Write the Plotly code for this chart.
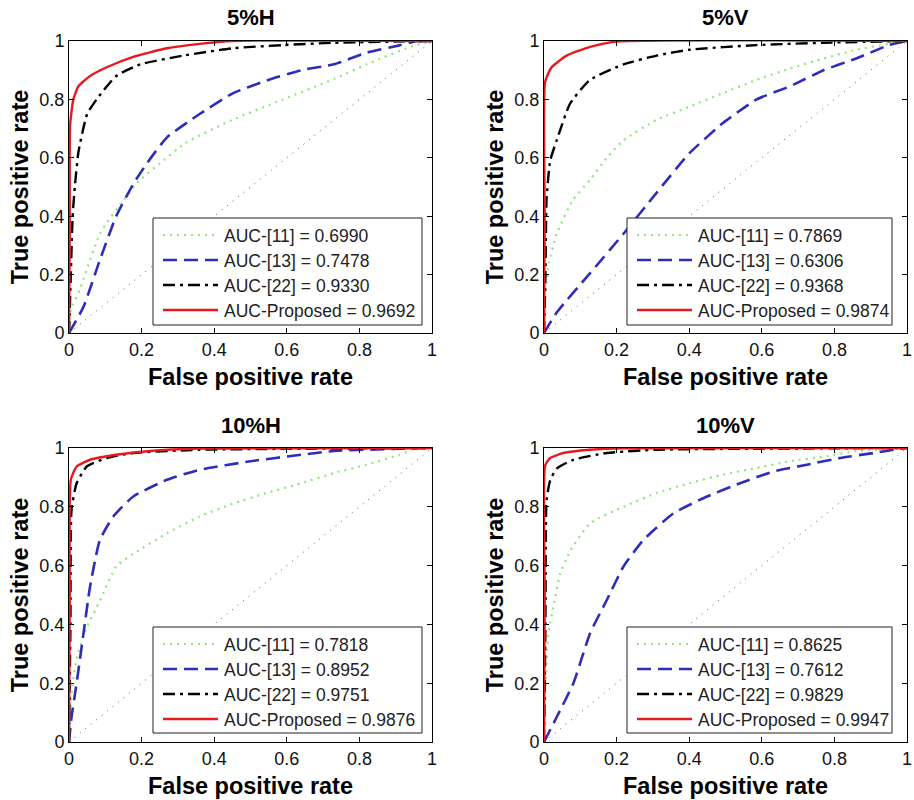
import plotly.graph_objects as go

# ---------------- data ----------------
panel_titles = ["5%H", "5%V", "10%H", "10%V"]
method_names = ["AUC-[11]", "AUC-[13]", "AUC-[22]", "AUC-Proposed"]

auc_5H = ["0.6990", "0.7478", "0.9330", "0.9692"]
auc_5V = ["0.7869", "0.6306", "0.9368", "0.9874"]
auc_10H = ["0.7818", "0.8952", "0.9751", "0.9876"]
auc_10V = ["0.8625", "0.7612", "0.9829", "0.9947"]

# ---- 5%H ----
h5_m11_fpr = [0, 0.005, 0.03, 0.085, 0.15, 0.196, 0.25, 0.32, 0.45, 0.59, 0.73, 0.82, 0.94, 1]
h5_m11_tpr = [0, 0.08, 0.15, 0.34, 0.456, 0.525, 0.58, 0.65, 0.73, 0.80, 0.87, 0.92, 0.98, 1]
h5_m13_fpr = [0, 0.04, 0.085, 0.13, 0.177, 0.214, 0.27, 0.36, 0.45, 0.545, 0.64, 0.73, 0.82, 0.91, 0.96, 1]
h5_m13_tpr = [0, 0.09, 0.25, 0.40, 0.51, 0.58, 0.67, 0.75, 0.82, 0.865, 0.90, 0.92, 0.96, 0.985, 1.0, 1]
h5_m22_fpr = [0, 0.005, 0.01, 0.016, 0.026, 0.05, 0.076, 0.13, 0.196, 0.315, 0.45, 0.59, 0.73, 1]
h5_m22_tpr = [0, 0.2, 0.4, 0.5, 0.62, 0.75, 0.80, 0.88, 0.92, 0.95, 0.975, 0.986, 0.994, 1]
h5_prop_fpr = [0, 0.002, 0.003, 0.012, 0.026, 0.058, 0.104, 0.177, 0.27, 0.36, 0.45, 1]
h5_prop_tpr = [0, 0.35, 0.71, 0.80, 0.845, 0.88, 0.91, 0.946, 0.975, 0.99, 1.0, 1]

# ---- 5%V ----
v5_m11_fpr = [0, 0.003, 0.012, 0.035, 0.08, 0.127, 0.173, 0.219, 0.31, 0.40, 0.49, 0.586, 0.678, 0.77, 0.86, 0.95, 1]
v5_m11_tpr = [0, 0.11, 0.23, 0.34, 0.456, 0.525, 0.60, 0.66, 0.73, 0.775, 0.82, 0.867, 0.906, 0.94, 0.97, 0.99, 1]
v5_m13_fpr = [0, 0.035, 0.127, 0.219, 0.31, 0.40, 0.494, 0.586, 0.678, 0.77, 0.86, 0.95, 1]
v5_m13_tpr = [0, 0.07, 0.205, 0.34, 0.48, 0.615, 0.72, 0.80, 0.845, 0.90, 0.94, 0.986, 1]
v5_m22_fpr = [0, 0.004, 0.007, 0.017, 0.035, 0.072, 0.127, 0.219, 0.31, 0.40, 0.586, 0.77, 1]
v5_m22_tpr = [0, 0.2, 0.456, 0.59, 0.66, 0.786, 0.867, 0.92, 0.95, 0.97, 0.986, 0.994, 1]
v5_prop_fpr = [0, 0.002, 0.003, 0.021, 0.0625, 0.127, 0.2, 1]
v5_prop_tpr = [0, 0.4, 0.86, 0.91, 0.95, 0.98, 0.998, 1]

# ---- 10%H ----
h10_m11_fpr = [0, 0.005, 0.02, 0.049, 0.085, 0.13, 0.177, 0.27, 0.36, 0.45, 0.545, 0.64, 0.73, 0.82, 0.91, 0.96, 1]
h10_m11_tpr = [0, 0.14, 0.28, 0.39, 0.48, 0.597, 0.64, 0.71, 0.767, 0.81, 0.847, 0.88, 0.915, 0.943, 0.977, 1.0, 1]
h10_m13_fpr = [0, 0.007, 0.021, 0.04, 0.058, 0.085, 0.122, 0.177, 0.27, 0.36, 0.5, 0.64, 0.73, 1]
h10_m13_tpr = [0, 0.085, 0.2, 0.37, 0.528, 0.687, 0.767, 0.835, 0.892, 0.926, 0.955, 0.977, 0.99, 1]
h10_m22_fpr = [0, 0.004, 0.007, 0.021, 0.049, 0.104, 0.177, 0.36, 1]
h10_m22_tpr = [0, 0.4, 0.79, 0.88, 0.937, 0.966, 0.983, 0.994, 1]
h10_prop_fpr = [0, 0.002, 0.005, 0.021, 0.058, 0.13, 0.223, 0.36, 1]
h10_prop_tpr = [0, 0.5, 0.892, 0.937, 0.96, 0.977, 0.99, 0.998, 1]

# ---- 10%V ----
v10_m11_fpr = [0, 0.003, 0.012, 0.026, 0.044, 0.072, 0.127, 0.219, 0.31, 0.40, 0.494, 0.586, 0.678, 0.77, 0.86, 1]
v10_m11_tpr = [0, 0.14, 0.37, 0.46, 0.57, 0.65, 0.744, 0.80, 0.847, 0.88, 0.91, 0.932, 0.955, 0.97, 0.989, 1]
v10_m13_fpr = [0, 0.035, 0.081, 0.127, 0.173, 0.219, 0.274, 0.357, 0.449, 0.54, 0.632, 0.724, 0.816, 0.908, 0.98, 1]
v10_m13_tpr = [0, 0.085, 0.2, 0.37, 0.483, 0.597, 0.6875, 0.778, 0.835, 0.88, 0.92, 0.943, 0.966, 0.983, 0.997, 1]
v10_m22_fpr = [0, 0.004, 0.007, 0.017, 0.035, 0.081, 0.173, 0.31, 1]
v10_m22_tpr = [0, 0.4, 0.82, 0.89, 0.93, 0.96, 0.983, 0.994, 1]
v10_prop_fpr = [0, 0.002, 0.003, 0.017, 0.053, 0.127, 0.22, 1]
v10_prop_tpr = [0, 0.5, 0.94, 0.966, 0.983, 0.994, 0.999, 1]

diag = [0, 1]

panels = [
    (auc_5H, [(h5_m11_fpr, h5_m11_tpr), (h5_m13_fpr, h5_m13_tpr), (h5_m22_fpr, h5_m22_tpr), (h5_prop_fpr, h5_prop_tpr)]),
    (auc_5V, [(v5_m11_fpr, v5_m11_tpr), (v5_m13_fpr, v5_m13_tpr), (v5_m22_fpr, v5_m22_tpr), (v5_prop_fpr, v5_prop_tpr)]),
    (auc_10H, [(h10_m11_fpr, h10_m11_tpr), (h10_m13_fpr, h10_m13_tpr), (h10_m22_fpr, h10_m22_tpr), (h10_prop_fpr, h10_prop_tpr)]),
    (auc_10V, [(v10_m11_fpr, v10_m11_tpr), (v10_m13_fpr, v10_m13_tpr), (v10_m22_fpr, v10_m22_tpr), (v10_prop_fpr, v10_prop_tpr)]),
]

# ---------------- styling ----------------
W, H = 914, 800
FONT = "Liberation Sans, Arial, sans-serif"
styles = [
    dict(color="rgb(140,232,120)", width=2.2, dash="2px,5px"),
    dict(color="rgb(45,45,185)", width=2.6, dash="14px,7px"),
    dict(color="black", width=2.4, dash="12px,5px,3px,5px"),
    dict(color="rgb(230,25,30)", width=2.4, dash="solid"),
]

# pixel boxes of the four axes (left, right, top, bottom)
boxes = [(69, 432, 41, 333), (544, 907, 41, 333), (69, 432, 448, 742), (544, 907, 448, 742)]
# legend boxes (left, right, top, bottom)
legend_boxes = [(153, 422, 218, 325), (627, 892, 218, 325), (153, 422, 627, 733), (627, 892, 627, 733)]
title_y = [18, 18, 425, 425]


def px_x(v):
    return v / W


def px_y(v):
    return 1 - v / H


fig = go.Figure()
layout = dict(
    width=W, height=H, margin=dict(l=0, r=0, t=0, b=0),
    paper_bgcolor="white", plot_bgcolor="white",
    font=dict(family=FONT, color="black"),
    showlegend=False, annotations=[], shapes=[],
)

for i, (aucs, curves) in enumerate(panels):
    n = i + 1
    xa = "x" if n == 1 else f"x{n}"
    ya = "y" if n == 1 else f"y{n}"
    fig.add_trace(go.Scatter(x=diag, y=diag, mode="lines", xaxis=xa, yaxis=ya,
                             line=dict(color="rgb(90,90,90)", width=1, dash="1px,6px"),
                             hoverinfo="skip"))
    for k, (fx, ty) in enumerate(curves):
        fig.add_trace(go.Scatter(x=fx, y=ty, mode="lines", xaxis=xa, yaxis=ya,
                                 line=dict(styles[k], shape="spline", smoothing=0.5),
                                 name=f"{method_names[k]} = {aucs[k]}"))
    l, r, t, b = boxes[i]
    axcommon = dict(range=[0, 1], dtick=0.2, tick0=0, showgrid=False, zeroline=False,
                    showline=True, linecolor="black", linewidth=1, mirror="ticks",
                    ticks="inside", ticklen=5, tickcolor="black",
                    tickfont=dict(size=18, family=FONT, color="#111"), automargin=False)
    xkey = "xaxis" if n == 1 else f"xaxis{n}"
    ykey = "yaxis" if n == 1 else f"yaxis{n}"
    layout[xkey] = dict(axcommon, domain=[px_x(l), px_x(r)], anchor=ya,
                        title=dict(text="<b>False positive rate</b>", font=dict(size=23.5, family=FONT), standoff=9))
    layout[ykey] = dict(axcommon, domain=[px_y(b), px_y(t)], anchor=xa,
                        title=dict(text="<b>True positive rate</b>", font=dict(size=23.5, family=FONT), standoff=4))

    # legend box drawn in paper space
    bl, br, bt, bb = legend_boxes[i]
    layout["shapes"].append(dict(type="rect", xref="paper", yref="paper",
                                 x0=px_x(bl), x1=px_x(br), y0=px_y(bb), y1=px_y(bt),
                                 line=dict(color="#222", width=1), fillcolor="white", layer="above"))
    for k in range(4):
        ry = bt + 17 + 25 * k
        layout["shapes"].append(dict(type="line", xref="paper", yref="paper",
                                     x0=px_x(bl + 10), x1=px_x(bl + 65), y0=px_y(ry), y1=px_y(ry),
                                     line=dict(color=styles[k]["color"], width=styles[k]["width"],
                                               dash=styles[k]["dash"]), layer="above"))
        layout["annotations"].append(dict(text=f"{method_names[k]} = {aucs[k]}",
                                          x=px_x(bl + 69), y=px_y(ry + 1), xref="paper", yref="paper",
                                          showarrow=False, xanchor="left", yanchor="middle",
                                          font=dict(size=17.5, family=FONT, color="#222")))

    layout["annotations"].append(dict(text=f"<b>{panel_titles[i]}</b>", x=px_x((l + r) / 2), y=px_y(title_y[i]),
                                      xref="paper", yref="paper", showarrow=False,
                                      font=dict(size=22, family=FONT, color="black"),
                                      xanchor="center", yanchor="middle"))

fig.update_layout(**layout)
fig.write_html("out.html", config={"displayModeBar": False},
               post_script="document.body.style.margin='0px';")
